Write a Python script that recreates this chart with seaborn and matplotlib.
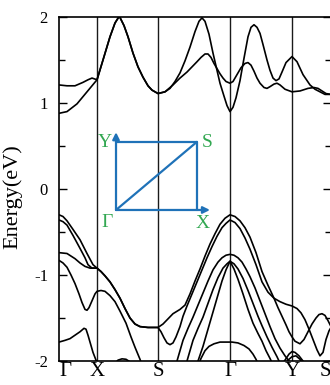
import matplotlib
matplotlib.use("Agg")
import matplotlib.pyplot as plt
from matplotlib.ticker import MultipleLocator
import pandas as pd
import seaborn as sns

# High-symmetry path (k-path distance, arbitrary units)
sym_labels = ["Γ", "X", "S", "Γ", "Y", "S"]
sym_k = [0, 38, 99, 171, 233, 272]

# ---------------- conduction bands ----------------
# X-S branch shared by the two lowest conduction bands
k_c_xs = [44, 51, 56, 60.3, 65, 69, 74, 79, 84, 89, 93, 99]
e_c_xs = [1.50, 1.77, 1.93, 2.01, 1.90, 1.77, 1.58, 1.42, 1.30, 1.20, 1.15, 1.11]

k_c1 = ([0, 8, 18, 28, 38] + k_c_xs
        + [106, 111, 116, 121, 126, 131, 136, 140, 143, 146, 150, 154, 158, 161, 165, 168, 171]
        + [174, 177, 181, 185, 189, 192, 195, 198, 201, 204, 208, 211, 214, 217, 220, 223, 227, 233]
        + [238, 244, 251, 256, 261, 266, 272])
e_c1 = ([0.88, 0.90, 0.99, 1.13, 1.27] + e_c_xs
        + [1.13, 1.17, 1.25, 1.35, 1.49, 1.65, 1.83, 1.95, 1.99, 1.95, 1.80, 1.58, 1.38, 1.23, 1.08, 0.97, 0.90]
        + [0.95, 1.06, 1.26, 1.52, 1.77, 1.88, 1.91, 1.88, 1.81, 1.68, 1.50, 1.38, 1.29, 1.26, 1.28, 1.36, 1.47, 1.54]
        + [1.48, 1.33, 1.21, 1.16, 1.13, 1.10, 1.10])

k_c2 = ([0, 8, 16, 24, 29, 33, 38] + k_c_xs
        + [106, 114, 121, 128, 133, 138, 142, 146, 149, 152, 155, 158, 161, 164, 167, 171]
        + [174, 178, 182, 186, 189, 192, 195, 198, 201, 205, 208, 211, 215, 218, 221, 226, 233]
        + [241, 249, 255, 259, 263, 267, 272])
e_c2 = ([1.21, 1.20, 1.20, 1.24, 1.27, 1.29, 1.27] + e_c_xs
        + [1.13, 1.21, 1.29, 1.36, 1.42, 1.48, 1.53, 1.57, 1.57, 1.53, 1.46, 1.40, 1.34, 1.29, 1.25, 1.23]
        + [1.25, 1.33, 1.41, 1.46, 1.47, 1.44, 1.37, 1.29, 1.23, 1.18, 1.17, 1.19, 1.22, 1.23, 1.21, 1.16, 1.13]
        + [1.14, 1.17, 1.18, 1.17, 1.14, 1.11, 1.10])

# ---------------- valence bands ----------------
# X-S branch shared by the two highest valence bands
k_v_xs = [42, 46, 51, 56, 61, 66, 71, 76, 81, 89, 99]
e_v_xs = [-0.96, -1.01, -1.08, -1.17, -1.27, -1.39, -1.50, -1.57, -1.60, -1.61, -1.61]

k_v1 = ([0, 4, 8, 14, 21, 28, 34, 38] + k_v_xs
        + [104, 109, 114, 121, 126, 131, 136, 141, 146, 151, 156, 161, 166, 171]
        + [176, 181, 186, 191, 197, 203, 209, 215, 219, 223, 227, 230, 233, 236, 241, 245,
           249, 253, 257, 260, 263, 266, 269, 272])
e_v1 = ([-0.30, -0.32, -0.37, -0.47, -0.59, -0.75, -0.88, -0.92] + e_v_xs
        + [-1.57, -1.51, -1.45, -1.40, -1.35, -1.22, -1.07, -0.93, -0.78, -0.64, -0.52, -0.41, -0.34, -0.30]
        + [-0.32, -0.37, -0.45, -0.56, -0.74, -0.96, -1.12, -1.27, -1.38, -1.48, -1.58, -1.66, -1.72,
           -1.77, -1.80, -1.75, -1.66, -1.57, -1.50, -1.46, -1.45, -1.47, -1.53, -1.60])

k_v2 = ([0, 4, 8, 14, 21, 26, 29, 33, 38] + k_v_xs
        + [102, 105, 108, 111, 114, 117, 121, 124, 128, 133, 138, 143, 148, 153, 158, 163, 167, 171]
        + [176, 181, 186, 191, 197, 203, 209, 215, 221, 227, 233, 238, 242, 246, 250, 254, 258,
           261, 264, 267, 270, 272])
e_v2 = ([-0.36, -0.38, -0.42, -0.54, -0.69, -0.80, -0.88, -0.92, -0.92] + e_v_xs
        + [-1.66, -1.73, -1.79, -1.81, -1.79, -1.72, -1.60, -1.48, -1.36, -1.22, -1.08, -0.94, -0.80,
           -0.67, -0.55, -0.45, -0.40, -0.36]
        + [-0.39, -0.46, -0.57, -0.70, -0.88, -1.08, -1.20, -1.27, -1.31, -1.34, -1.36, -1.39, -1.44,
           -1.52, -1.63, -1.75, -1.87, -1.94, -1.90, -1.75, -1.65, -1.61])

k_v3 = [116, 118, 121, 124, 129, 134, 139, 144, 149, 154, 159, 163, 167, 171,
        175, 179, 183, 187, 191, 196, 201, 206, 211, 216, 221, 226, 230, 232]
e_v3 = [-2.06, -2.00, -1.88, -1.76, -1.62, -1.49, -1.35, -1.21, -1.07, -0.94, -0.85, -0.80, -0.77, -0.76,
        -0.77, -0.80, -0.85, -0.93, -1.02, -1.15, -1.30, -1.45, -1.60, -1.74, -1.85, -1.94, -2.00, -2.05]

k_v4 = [126, 128, 131, 134, 139, 144, 149, 154, 159, 164, 168, 171,
        175, 179, 184, 189, 194, 199, 203, 208, 213, 218, 220, 222]
e_v4 = [-2.05, -2.00, -1.88, -1.76, -1.62, -1.49, -1.33, -1.17, -1.03, -0.92, -0.87, -0.84,
        -0.87, -0.93, -1.04, -1.18, -1.33, -1.48, -1.59, -1.72, -1.84, -1.95, -2.00, -2.05]

k_v5 = [137, 139, 144, 149, 154, 159, 163, 167, 171,
        175, 179, 184, 189, 194, 199, 203, 207, 211, 213]
e_v5 = [-2.05, -2.00, -1.83, -1.63, -1.43, -1.23, -1.07, -0.94, -0.84,
        -0.93, -1.05, -1.22, -1.40, -1.56, -1.68, -1.77, -1.88, -1.97, -2.02]

k_v6 = [140, 142, 146, 150, 155, 161, 167, 173, 179, 185, 190, 194, 197, 199]
e_v6 = [-2.03, -1.97, -1.88, -1.83, -1.80, -1.78, -1.78, -1.78, -1.79, -1.82, -1.86, -1.92, -1.98, -2.03]

k_v7 = [0, 4, 8, 12, 16, 21, 26, 31, 38]
e_v7 = [-0.74, -0.745, -0.75, -0.78, -0.81, -0.86, -0.90, -0.92, -0.92]

k_v8 = [0, 4, 8, 12, 16, 20, 23, 26, 28, 30, 33, 36, 38, 42, 46, 51, 56, 61, 67, 72, 76, 81, 83]
e_v8 = [-0.83, -0.86, -0.91, -1.00, -1.10, -1.22, -1.32, -1.40, -1.41, -1.38, -1.30, -1.22, -1.19,
        -1.18, -1.19, -1.24, -1.31, -1.42, -1.56, -1.72, -1.84, -1.98, -2.05]

k_v9 = [0, 6, 11, 16, 21, 25, 27, 29, 31, 34, 37, 39]
e_v9 = [-1.78, -1.76, -1.74, -1.70, -1.66, -1.62, -1.63, -1.70, -1.78, -1.90, -1.99, -2.04]

k_v10 = [55, 59, 63, 67, 71, 74]
e_v10 = [-2.04, -1.99, -1.975, -1.98, -2.01, -2.05]

k_v11 = [222, 226, 230, 233, 236, 240, 244, 246]
e_v11 = [-2.05, -1.99, -1.92, -1.89, -1.90, -1.94, -2.00, -2.05]

k_v12 = [225, 229, 233, 237, 241, 244]
e_v12 = [-2.05, -1.99, -1.95, -1.94, -1.98, -2.04]

bands = [("c1", k_c1, e_c1), ("c2", k_c2, e_c2),
         ("v1", k_v1, e_v1), ("v2", k_v2, e_v2), ("v3", k_v3, e_v3),
         ("v4", k_v4, e_v4), ("v5", k_v5, e_v5), ("v6", k_v6, e_v6),
         ("v7", k_v7, e_v7), ("v8", k_v8, e_v8), ("v9", k_v9, e_v9),
         ("v10", k_v10, e_v10), ("v11", k_v11, e_v11), ("v12", k_v12, e_v12)]

rows = []
for name, ks, es in bands:
    for k, e in zip(ks, es):
        rows.append((name, k, e))
df = pd.DataFrame(rows, columns=["band", "k", "E"])

sns.set_theme(style="ticks")
plt.rcParams["font.family"] = ["Liberation Serif", "DejaVu Serif"]
plt.rcParams["axes.unicode_minus"] = False

fig = plt.figure(figsize=(3.3, 3.85), dpi=100)
ax = fig.add_axes([59 / 330, 24 / 385, 272 / 330, 344 / 385])

for k in sym_k[1:-1]:
    ax.axvline(k, color="#1a1a1a", lw=1.0, zorder=1)

sns.lineplot(data=df, x="k", y="E", units="band", estimator=None, sort=False,
             color="black", lw=1.2, legend=False, ax=ax, zorder=2)

ax.set_xlim(sym_k[0], sym_k[-1])
ax.set_ylim(-2, 2)
ax.set_yticks([-2, -1, 0, 1, 2])
ax.yaxis.set_minor_locator(MultipleLocator(0.5))
ax.set_xticks(sym_k)
ax.set_xticklabels(sym_labels, fontsize=15)
xl = ax.get_xticklabels()
xl[0].set_ha("left")
xl[-1].set_ha("right")
ax.tick_params(axis="x", length=0, pad=1, colors="black")
ax.tick_params(axis="y", which="both", direction="in", left=True, right=True,
               labelsize=12, pad=8, colors="black", width=1.0)
ax.tick_params(axis="y", which="major", length=6)
ax.tick_params(axis="y", which="minor", length=4)
ax.set_xlabel("")
ax.set_ylabel("Energy(eV)", fontsize=16, color="black")
ax.yaxis.set_label_coords(-0.136, 0.478)
for sp in ax.spines.values():
    sp.set_color("black")
    sp.set_linewidth(1.2)

# Brillouin-zone sketch
blue = "#1f72b8"
green = "#33a852"
g0 = (0.2096, 0.439)   # Γ corner
s0 = (0.507, 0.637)    # S corner
tr = ax.transAxes
ax.plot([s0[0], s0[0], g0[0]], [g0[1], s0[1], s0[1]], color=blue, lw=1.6, transform=tr, zorder=3)
ax.plot([g0[0], s0[0]], [g0[1], s0[1]], color=blue, lw=1.6, transform=tr, zorder=3)
ax.annotate("", xy=(0.555, g0[1]), xytext=g0, xycoords=tr, textcoords=tr,
            arrowprops=dict(arrowstyle="-|>", color=blue, lw=1.6, mutation_scale=10,
                            shrinkA=0, shrinkB=0), zorder=3)
ax.annotate("", xy=(g0[0], 0.665), xytext=g0, xycoords=tr, textcoords=tr,
            arrowprops=dict(arrowstyle="-|>", color=blue, lw=1.6, mutation_scale=10,
                            shrinkA=0, shrinkB=0), zorder=3)
for txt, (x, y) in [("Y", (0.169, 0.634)), ("S", (0.544, 0.634)),
                    ("Γ", (0.176, 0.404)), ("X", (0.529, 0.401))]:
    ax.text(x, y, txt, color=green, fontsize=14, ha="center", va="center", transform=tr)

fig.savefig("out.png", dpi=100)
